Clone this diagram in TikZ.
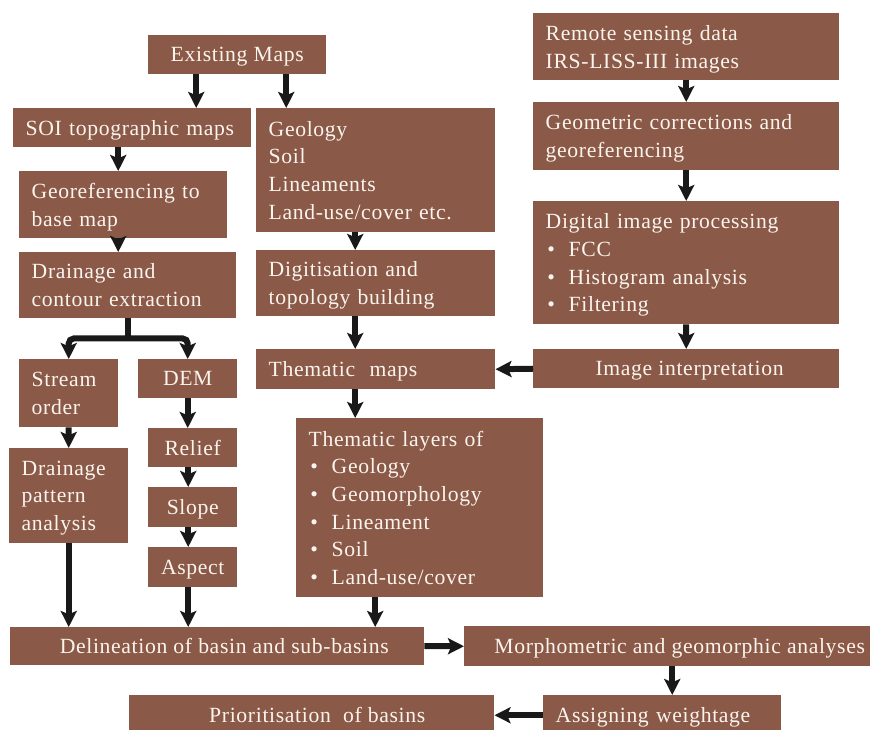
\documentclass[tikz,border=0pt]{standalone}
\usepackage{fontspec}
\setmainfont[LetterSpace=3]{Liberation Serif}
\usepackage{tikz}
\usetikzlibrary{arrows.meta,positioning,calc}
\definecolor{boxcolor}{RGB}{139,89,71}
\definecolor{inkcolor}{RGB}{250,244,238}
\newcommand{\itm}{\makebox[0.69cm][l]{\hspace{0.05cm}\textbullet}}
\newcommand{\nodepth}{\par\kern-\prevdepth}

\begin{document}
\begin{tikzpicture}[
    stage/.style={rectangle, fill=boxcolor, text=inkcolor, anchor=north west, inner xsep=0.375cm, inner ysep=0pt, align=left, font=\fontsize{18.5}{23.6}\selectfont, execute at end node=\nodepth},
    cstage/.style={rectangle, fill=boxcolor, text=inkcolor, anchor=north west, inner xsep=0.1cm, inner ysep=0pt, align=center, text depth=0pt, font=\fontsize{18.5}{23.6}\selectfont},
    line/.style={line width=0.18cm, black!90},
    flow/.style={line, -{Stealth[length=0.48cm, width=0.48cm, inset=0.1cm]}}
]
    \useasboundingbox (0,0) rectangle (26.13,-21.87);

    % existing maps branch
    \node[cstage, minimum width=5.34cm, minimum height=1.17cm] (exist) at (4.44,-1.05) {Existing Maps};
    \node[stage, text width=6.39cm, minimum height=1.17cm] (soi) at (0.39,-3.24) {SOI topographic maps};
    \node[stage, text width=5.49cm, minimum height=2.01cm] (georef) at (0.57,-5.13) {Georeferencing to\\base map};
    \node[stage, text width=5.76cm, minimum height=1.98cm] (drain) at (0.57,-7.56) {Drainage and\\contour extraction};
    \node[stage, text width=6.42cm, minimum height=3.72cm] (maps) at (7.68,-3.24) {Geology\\Soil\\Lineaments\\Land-use/cover etc.};
    \node[stage, text width=6.42cm, minimum height=1.98cm] (digit) at (7.68,-7.5) {Digitisation and\\topology building};
    \node[stage, text width=6.42cm, minimum height=1.2cm] (thematic) at (7.68,-10.47) {Thematic\ \ maps};

    % remote sensing branch
    \node[stage, text width=8.43cm, minimum height=2.01cm] (remote) at (15.99,-0.39) {Remote sensing data\\IRS-LISS-III images};
    \node[stage, text width=8.43cm, minimum height=2.04cm] (correct) at (15.99,-3.06) {Geometric corrections and\\georeferencing};
    \node[stage, text width=8.43cm, minimum height=3.69cm] (dip) at (15.99,-6.03) {Digital image processing\\\itm FCC\\\itm Histogram analysis\\\itm Filtering};
    \node[cstage, minimum width=9.18cm, minimum height=1.17cm] (interp) at (15.99,-10.47) {\hspace*{0.2cm}Image interpretation};

    % drainage and terrain
    \node[stage, text width=2.22cm, minimum height=2.04cm] (stream) at (0.57,-10.77) {Stream\\order};
    \node[cstage, minimum width=2.97cm, minimum height=1.17cm] (dem) at (4.14,-10.77) {DEM};
    \node[cstage, minimum width=2.67cm, minimum height=1.17cm] (relief) at (4.44,-12.84) {Relief};
    \node[cstage, minimum width=2.67cm, minimum height=1.2cm] (slope) at (4.44,-14.61) {Slope};
    \node[cstage, minimum width=2.67cm, minimum height=1.2cm] (aspect) at (4.44,-16.41) {Aspect};
    \node[stage, text width=2.82cm, minimum height=2.85cm] (pattern) at (0.27,-13.44) {Drainage\\pattern\\analysis};
    \node[stage, text width=6.66cm, minimum height=5.37cm] (layers) at (8.88,-12.54) {Thematic layers of\\\itm Geology\\\itm Geomorphology\\\itm Lineament\\\itm Soil\\\itm Land-use/cover};

    % results
    \node[cstage, minimum width=12.42cm, minimum height=1.14cm] (basin) at (0.3,-18.81) {\hspace*{0.42cm}Delineation of basin and sub-basins};
    \node[cstage, minimum width=12.18cm, minimum height=1.2cm] (morph) at (13.92,-18.78) {\hspace*{0.75cm}Morphometric and geomorphic analyses};
    \node[stage, text width=6.39cm, minimum height=1.2cm] (weight) at (16.29,-20.85) {Assigning weightage};
    \node[cstage, minimum width=10.95cm, minimum height=1.2cm] (prior) at (3.87,-20.85) {\hspace*{0.33cm}Prioritisation\ \ of basins};

    \draw[flow] ([xshift=-1.23cm]exist.south) -- ([xshift=-1.23cm]exist.south |- soi.north);
    \draw[flow] ([xshift=1.47cm]exist.south) -- ([xshift=1.47cm]exist.south |- maps.north);
    \draw[flow] ([xshift=-0.42cm]soi.south) -- ([xshift=-0.42cm]soi.south |- georef.north);
    \draw[flow] ([xshift=-0.15cm]georef.south) -- ([xshift=-0.15cm]georef.south |- drain.north);
    \draw[flow] ([xshift=-0.615cm]maps.south) -- ([xshift=-0.615cm]maps.south |- digit.north);
    \draw[flow] ([xshift=-0.615cm]digit.south) -- ([xshift=-0.615cm]digit.south |- thematic.north);
    \draw[flow] ([xshift=-0.615cm]thematic.south) -- ([xshift=-0.615cm]thematic.south |- layers.north);
    \draw[flow] (interp.west) -- (thematic.east);
    \draw[flow] (remote.south) -- (correct.north);
    \draw[flow] (correct.south) -- (dip.north);
    \draw[flow] (dip.south) -- (interp.north);

    % split below drainage extraction
    \coordinate (split) at ($(drain.south)+(0,-0.6)$);
    \draw[line] (drain.south) -- ([yshift=-0.09cm]split);
    \draw[flow, rounded corners=0.15cm] (split) -| (stream.north);
    \draw[flow, rounded corners=0.15cm] (split) -| (dem.north);

    \draw[flow] (stream.south) -- (pattern.north);
    \draw[flow] (dem.south) -- (dem.south |- relief.north);
    \draw[flow] ([xshift=-0.135cm]relief.south) -- ([xshift=-0.135cm]relief.south |- slope.north);
    \draw[flow] ([xshift=-0.135cm]slope.south) -- ([xshift=-0.135cm]slope.south |- aspect.north);
    \draw[flow] ([xshift=-0.135cm]aspect.south) -- ([xshift=-0.135cm]aspect.south |- basin.north);
    \draw[flow] (pattern.south) -- (pattern.south |- basin.north);
    \draw[flow] ([xshift=-1.335cm]layers.south) -- ([xshift=-1.335cm]layers.south |- basin.north);
    \draw[flow] (basin.east) -- (morph.west);
    \draw[flow] ([xshift=0.15cm]morph.south) -- ([xshift=0.15cm]morph.south |- weight.north);
    \draw[flow] (weight.west) -- (prior.east);
\end{tikzpicture}
\end{document}
